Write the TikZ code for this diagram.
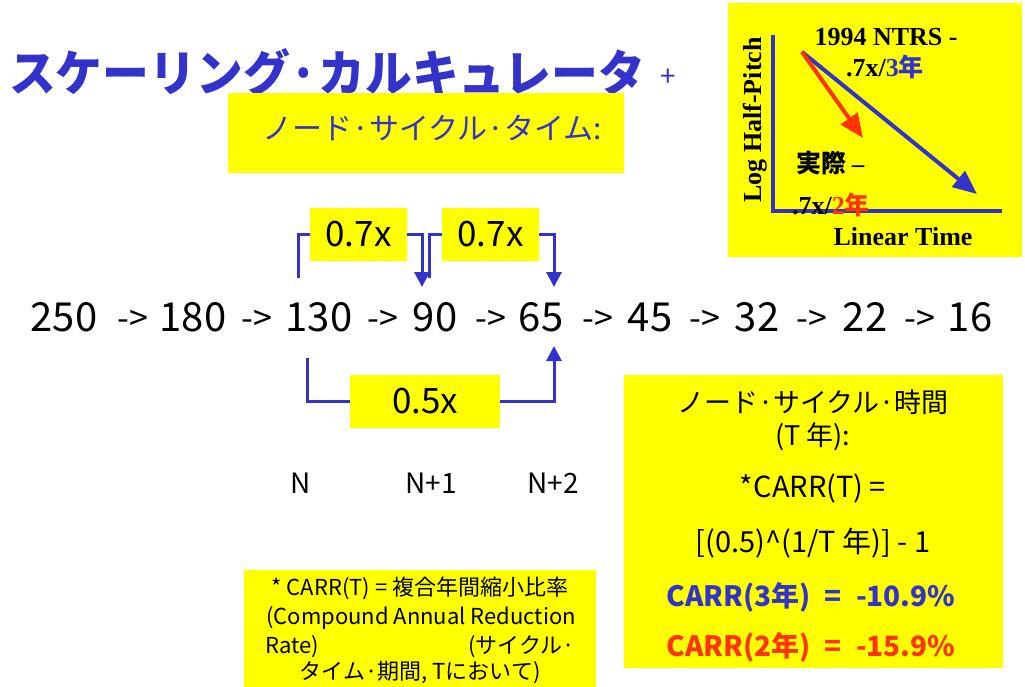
\documentclass[tikz,border=0pt]{standalone}
\usepackage{fontspec}
\setmainfont{Noto Sans CJK JP}
\newfontfamily\tms{Liberation Serif}
\usetikzlibrary{arrows.meta}
\definecolor{myblue}{HTML}{3333CC}
\definecolor{myred}{HTML}{FF3300}
\definecolor{myyellow}{HTML}{FFFF00}
\newcommand{\fs}[1]{\fontsize{#1}{#1}\selectfont}
\begin{document}
\begin{tikzpicture}[x=1pt,y=-1pt,
  ybox/.style={fill=myyellow,draw=none,inner sep=0pt},
  conn/.style={draw=myblue,line width=3pt},
  tipb/.style={-{Triangle[width=15pt,length=15pt]}},
  num/.style={font=\fs{40},inner sep=0pt},
  arr/.style={font=\fs{34},inner sep=0pt},
  nlab/.style={font=\fs{28},inner sep=0pt},
  rb/.style={font=\fs{29},inner sep=0pt},
  lb/.style={font=\fs{22},inner sep=0pt},
  tb/.style={font=\tms\bfseries\fs{26},inner sep=0pt},
  plotax/.style={draw=myblue,line width=3.5pt},
  plotarr/.style={line width=4pt,-{Triangle[width=20pt,length=24pt]}}]
\useasboundingbox (0,0) rectangle (1025,687);
\fill[white] (0,0) rectangle (1025,687);

% title
\node[inner sep=0pt,anchor=west,text=myblue,font=\bfseries\fs{49}] (title) at (9,72) {\scalebox{0.955}[1]{スケーリング·カルキュレータ}};
\node[inner sep=0pt,text=myblue,font=\fs{28}] (plus) at (668,78) {+};

% node cycle time box
\node[ybox,minimum width=396pt,minimum height=80pt] (nctbox) at (426,133) {};
\node[inner sep=0pt,anchor=west,text=myblue,font=\fs{30}] (ncttext) at (262,128) {ノード·サイクル·タイム:};

% number row
\node[num] (n250) at (64,317) {250};
\node[arr] (a1) at (133,320) {->};
\node[num] (n180) at (193,317) {180};
\node[arr] (a2) at (257,320) {->};
\node[num] (n130) at (319,317) {130};
\node[arr] (a3) at (383,320) {->};
\node[num] (n90) at (435,317) {90};
\node[arr] (a4) at (491,320) {->};
\node[num] (n65) at (541,317) {65};
\node[arr] (a5) at (598,320) {->};
\node[num] (n45) at (650,317) {45};
\node[arr] (a6) at (705,320) {->};
\node[num] (n32) at (757,317) {32};
\node[arr] (a7) at (812,320) {->};
\node[num] (n22) at (865,317) {22};
\node[arr] (a8) at (920,320) {->};
\node[num] (n16) at (970,317) {16};

% connector boxes (placement)
\node[ybox,minimum width=97pt,minimum height=53pt] (b1) at (358.5,234.5) {};
\node[ybox,minimum width=97pt,minimum height=53pt] (b2) at (490.5,234.5) {};
\node[ybox,minimum width=150pt,minimum height=53pt] (b3) at (425,401.5) {};

\coordinate (s1) at (298,278);
\coordinate (t1) at (422,287);
\coordinate (s2) at (429,278);
\coordinate (t2) at (554,287);
\coordinate (s3) at (307,358);
\coordinate (t3) at (554,346);

\draw[conn] (s1) |- (b1.west);
\draw[conn,tipb] (b1.east) -| (t1);
\draw[conn] (s2) |- (b2.west);
\draw[conn,tipb] (b2.east) -| (t2);
\draw[conn] (s3) |- (b3.west);
\draw[conn,tipb] (b3.east) -| (t3);
% boxes with labels over lines
\node[ybox,minimum width=97pt,minimum height=53pt,font=\fs{35}] (b1f) at (b1) {0.7x};
\node[ybox,minimum width=97pt,minimum height=53pt,font=\fs{35}] (b2f) at (b2) {0.7x};
\node[ybox,minimum width=150pt,minimum height=53pt,font=\fs{35}] (b3f) at (b3) {0.5x};

% N labels
\node[nlab] (N0) at (301,483) {N};
\node[nlab] (N1) at (431,483) {N+1};
\node[nlab] (N2) at (553,483) {N+2};

% right formula box
\node[ybox,minimum width=379pt,minimum height=293pt] (rbox) at (813.5,521) {};
\node[rb,font=\fs{27}] (r1) at (813,402) {ノード·サイクル·時間};
\node[rb,font=\fs{27}] (r2) at (813,437) {(T 年):};
\node[rb] (r3) at (813,488) {*CARR(T) =};
\node[rb] (r4) at (813,543) {[(0.5)\^{}(1/T 年)] - 1};
\node[rb,text=myblue,font=\bfseries\fs{28}] (r5) at (811,597) {CARR(3年)\hspace{0.5em}=\hspace{0.5em}-10.9\%};
\node[rb,text=myred,font=\bfseries\fs{28}] (r6) at (811,647) {CARR(2年)\hspace{0.5em}=\hspace{0.5em}-15.9\%};

% bottom-left footnote box
\node[ybox,minimum width=352pt,minimum height=117pt] (lbox) at (420,628.5) {};
\node[lb] (l1) at (420,588) {* CARR(T) = 複合年間縮小比率};
\node[lb] (l2) at (421,618) {(Compound Annual Reduction};
\node[lb,anchor=west] (l3a) at (265,647) {Rate)};
\node[lb,anchor=east] (l3b) at (575,647) {(サイクル·};
\node[lb] (l4) at (420,673) {タイム·期間, Tにおいて)};

% inset plot
\node[ybox,minimum width=294pt,minimum height=254pt] (pbox) at (875,130) {};
\coordinate (ytop) at (773,35);
\coordinate (orig) at (773,211);
\coordinate (xend) at (1002,211);
\draw[plotax] (ytop) -- (orig) -- (xend);
\coordinate (pstart) at (802,52);
\coordinate (bend) at (977,194);
\coordinate (rend) at (863,138);
\draw[plotarr,myblue] (pstart) -- (bend);
\draw[plotarr,myred] (pstart) -- (rend);
\node[tb,rotate=90] (ylab) at (755,120) {Log Half-Pitch};
\node[tb] (ntrs) at (886,37) {1994 NTRS -};
\node[tb] (r3y) at (885,67) {.7x/\textcolor{myblue}{3\normalfont\bfseries\fs{25}年}};
\node[tb,anchor=west] (act) at (796,163) {\normalfont\bfseries\fs{25}実際 \tms –};
\node[tb,anchor=west] (r2y) at (792,205) {.7x/\textcolor{myred}{2\normalfont\bfseries\fs{25}年}};
\node[tb] (xlab) at (903,237) {Linear Time};
\end{tikzpicture}
\end{document}
